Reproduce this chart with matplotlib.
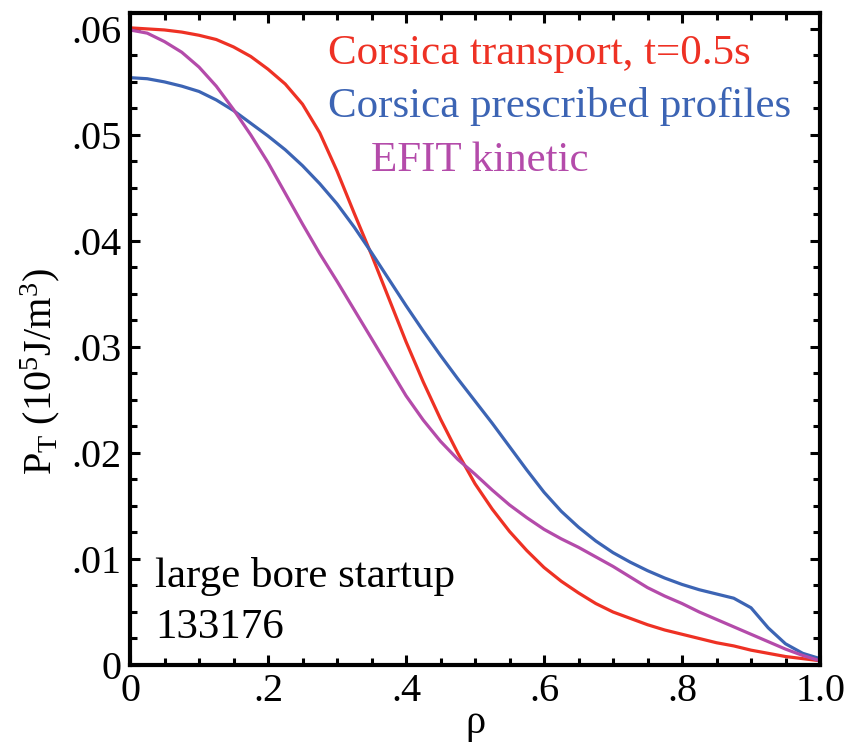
import matplotlib
matplotlib.use("Agg")
import matplotlib.pyplot as plt
from matplotlib.ticker import MultipleLocator, FuncFormatter

plt.rcParams['font.family'] = ['Liberation Serif', 'DejaVu Serif']
plt.rcParams['mathtext.fontset'] = 'custom'
plt.rcParams['mathtext.rm'] = 'Liberation Serif'
plt.rcParams['mathtext.it'] = 'Liberation Serif:italic'

# rho grid and profiles
rho = [0.0, 0.025, 0.05, 0.075, 0.1, 0.125, 0.15, 0.175, 0.2, 0.225, 0.25, 0.275,
       0.3, 0.325, 0.35, 0.375, 0.4, 0.425, 0.45, 0.475, 0.5, 0.525, 0.55, 0.575,
       0.6, 0.625, 0.65, 0.675, 0.7, 0.725, 0.75, 0.775, 0.8, 0.825, 0.85, 0.875,
       0.9, 0.925, 0.95, 0.975, 1.0]

p_transport = [0.0601, 0.0600, 0.0599, 0.0597, 0.0594, 0.0590, 0.0583, 0.0574, 0.0562, 0.0548, 0.0529, 0.0502,
               0.0466, 0.0426, 0.0387, 0.0346, 0.0305, 0.0267, 0.0232, 0.0200, 0.0171, 0.0147, 0.0126, 0.0108,
               0.0092, 0.0079, 0.0068, 0.0058, 0.0050, 0.0044, 0.0038, 0.0033, 0.0029, 0.0025, 0.0021, 0.0018,
               0.0014, 0.0011, 0.0008, 0.0006, 0.0004]

p_prescribed = [0.0554, 0.0553, 0.0550, 0.0546, 0.0541, 0.0533, 0.0523, 0.0511, 0.0499, 0.0486, 0.0471, 0.0454,
                0.0435, 0.0413, 0.0389, 0.0364, 0.0339, 0.0315, 0.0292, 0.0270, 0.0249, 0.0228, 0.0206, 0.0184,
                0.0163, 0.0145, 0.0130, 0.0117, 0.0106, 0.0097, 0.0089, 0.0082, 0.0076, 0.0071, 0.0067, 0.0063,
                0.0054, 0.0035, 0.0020, 0.0011, 0.0006]

p_efit = [0.0599, 0.0596, 0.0588, 0.0578, 0.0564, 0.0546, 0.0524, 0.0500, 0.0474, 0.0445, 0.0416, 0.0388,
          0.0362, 0.0335, 0.0308, 0.0281, 0.0254, 0.0231, 0.0211, 0.0194, 0.0180, 0.0165, 0.0151, 0.0139,
          0.0128, 0.0119, 0.0111, 0.0102, 0.0093, 0.0083, 0.0073, 0.0065, 0.0058, 0.0050, 0.0043, 0.0036,
          0.0029, 0.0022, 0.0015, 0.0009, 0.0004]

c_red = '#EE3124'
c_blue = '#3C64B4'
c_purple = '#B44BAA'

fig = plt.figure(figsize=(8.46, 7.47), dpi=100)
ax = fig.add_axes([130/846, 1-665/747, 690/846, 652/747])

ax.plot(rho, p_transport, color=c_red, lw=2.3, solid_joinstyle='round')
ax.plot(rho, p_prescribed, color=c_blue, lw=2.3, solid_joinstyle='round')
ax.plot(rho, p_efit, color=c_purple, lw=2.3, solid_joinstyle='round')

ax.set_xlim(0, 1)
ax.set_ylim(0, 0.0615)

def fmt(v, pos):
    if abs(v) < 1e-12:
        return '0'
    if abs(v - 1) < 1e-9:
        return '1.0'
    s = ('%.2f' % v) if v < 0.1 else ('%.1f' % v)
    return s.lstrip('0')

ax.xaxis.set_major_locator(MultipleLocator(0.2))
ax.xaxis.set_minor_locator(MultipleLocator(0.05))
ax.yaxis.set_major_locator(MultipleLocator(0.01))
ax.yaxis.set_minor_locator(MultipleLocator(0.0025))
ax.xaxis.set_major_formatter(FuncFormatter(fmt))
ax.yaxis.set_major_formatter(FuncFormatter(fmt))

ax.tick_params(which='both', direction='in', top=True, right=True, labelsize=29, width=2.2)
ax.tick_params(which='major', length=7, pad=6)
ax.tick_params(which='minor', length=5)
for s in ax.spines.values():
    s.set_linewidth(3)

ax.set_xlabel('ρ', fontsize=29, labelpad=-4)
ax.set_ylabel(r'P$_\mathrm{T}$ (10$^5$J/m$^3$)', fontsize=29)
ax.yaxis.set_label_coords(-0.098, 0.45)

ax.text(0.287, 0.0567, 'Corsica transport, t=0.5s', color=c_red, fontsize=31, va='baseline')
ax.text(0.287, 0.0517, 'Corsica prescribed profiles', color=c_blue, fontsize=31, va='baseline')
ax.text(0.349, 0.0466, 'EFIT kinetic', color=c_purple, fontsize=31, va='baseline')

ax.text(0.036, 0.0074, 'large bore startup', fontsize=31, va='baseline')
ax.text(0.036, 0.0025, '133176', fontsize=31, va='baseline')

fig.savefig('out.png', dpi=100)
